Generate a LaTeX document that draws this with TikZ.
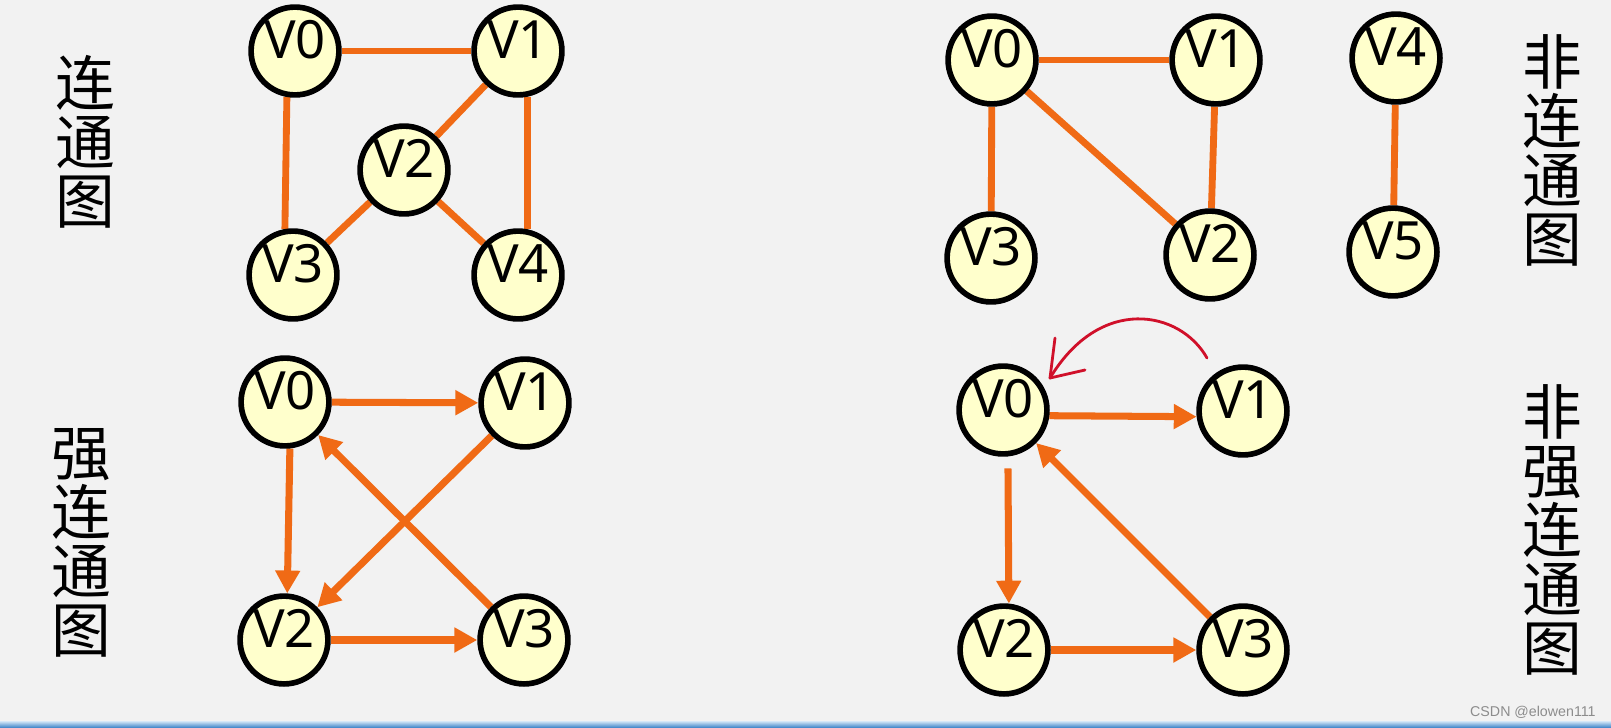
\documentclass[tikz,border=0pt]{standalone}
\usepackage{fontspec}
\setmainfont{Noto Sans}
\newfontfamily\cjk{Noto Sans CJK SC}
\newfontfamily\wmfont{Liberation Sans}
\usetikzlibrary{arrows.meta,calc,backgrounds}
\definecolor{bgc}{HTML}{F2F2F2}
\definecolor{edgec}{HTML}{F06A15}
\definecolor{nodefill}{HTML}{FFFFCC}
\definecolor{redpenc}{HTML}{D0102A}
\definecolor{stripa}{HTML}{D6E8F7}
\definecolor{stripb}{HTML}{4A8CCC}
\tikzset{
  vtx/.style={circle, draw=black, line width=3.2pt, fill=nodefill,
    minimum size=50pt, inner sep=0pt, font=\fontsize{30pt}{32pt}\selectfont,
    text height=9pt, text depth=0pt},
  uedge/.style={draw=edgec, line width=3.9pt},
  dedge/.style={draw=edgec, line width=4pt, -{Triangle[length=13pt,width=13.5pt]}},
  cjklabel/.style={align=center, font=\cjk\fontsize{34pt}{33.6pt}\selectfont, inner sep=0pt},
  redpen/.style={draw=redpenc, line width=1.6pt, line cap=round, line join=round},
}
\begin{document}
\begin{tikzpicture}[x=0.02cm, y=-0.02cm]
\useasboundingbox (0,0) rectangle (1611,727);
% nodes: graph A (connected)
\node[vtx] (a0) at (295,51) {V0};
\node[vtx] (a1) at (518,51) {V1};
\node[vtx] (a2) at (404,170) {V2};
\node[vtx] (a3) at (293,275) {V3};
\node[vtx] (a4) at (518,275) {V4};
% graph B (strongly connected)
\node[vtx] (b0) at (285,402) {V0};
\node[vtx] (b1) at (525,403) {V1};
\node[vtx] (b2) at (284,640) {V2};
\node[vtx] (b3) at (524,640) {V3};
% graph C (not connected)
\node[vtx] (c0) at (992,60) {V0};
\node[vtx] (c1) at (1216,60) {V1};
\node[vtx] (c2) at (1210,255) {V2};
\node[vtx] (c3) at (991,258) {V3};
\node[vtx] (c4) at (1396,58) {V4};
\node[vtx] (c5) at (1393,252) {V5};
% graph D (not strongly connected)
\node[vtx] (d0) at (1003,410) {V0};
\node[vtx] (d1) at (1243,411) {V1};
\node[vtx] (d2) at (1004,650) {V2};
\node[vtx] (d3) at (1243,650) {V3};
% labels
\node[cjklabel] (la) at (85,142) {连\\通\\图};
\node[cjklabel] (lb) at (81,543) {强\\连\\通\\图};
\node[cjklabel] (lc) at (1552,150) {非\\连\\通\\图};
\node[cjklabel] (ld) at (1552,530) {非\\强\\连\\通\\图};
\node[font=\wmfont\fontsize{8.1pt}{10pt}\selectfont, text=black!45, anchor=east, inner sep=0pt] (wm) at (1596,712) {CSDN @elowen111};
\begin{pgfonlayer}{background}
\fill[bgc] (0,0) rectangle (1611,727);
\shade[top color=stripa, bottom color=stripb] (0,721) rectangle (1611,727);
% graph A edges
\draw[uedge] (a0) -- (a1);
\draw[uedge] (a0.-100) -- (a3.100);
\draw[uedge] (a1.-78) -- (a4.78);
\draw[uedge] (a1) -- (a2);
\draw[uedge] (a2) -- (a3);
\draw[uedge] (a2) -- (a4);
% graph B edges
\draw[dedge] (b0) -- (b1);
\draw[dedge] (b0.-84) -- (b2.86);
\draw[dedge] (b1) -- (b2);
\draw[dedge] (b3) -- (b0);
\draw[dedge] (b2) -- (b3);
% graph C edges
\draw[uedge] (c0) -- (c1);
\draw[uedge] (c0) -- (c3);
\draw[uedge] (c0) -- (c2);
\draw[uedge] (c1) -- (c2);
\draw[uedge] (c4) -- (c5);
% graph D edges
\draw[dedge] (d0.-7) -- (d1.-173);
\draw[dedge, shorten <=6.8pt] (d0.-84) -- (d2.84);
\draw[dedge] (d3) -- (d0);
\draw[dedge] (d2) -- (d3);
\end{pgfonlayer}
% red hand-drawn arrow
\coordinate (rs) at ($(d1)+(-36,-53)$);
\coordinate (rt) at ($(d0)+(47,-32)$);
\draw[redpen] (rs) .. controls +(-27,-48) and +(50,-83) .. (rt);
\draw[redpen] (rt) -- ++(5,-40);
\draw[redpen] (rt) -- ++(35,-8);
\end{tikzpicture}
\end{document}
